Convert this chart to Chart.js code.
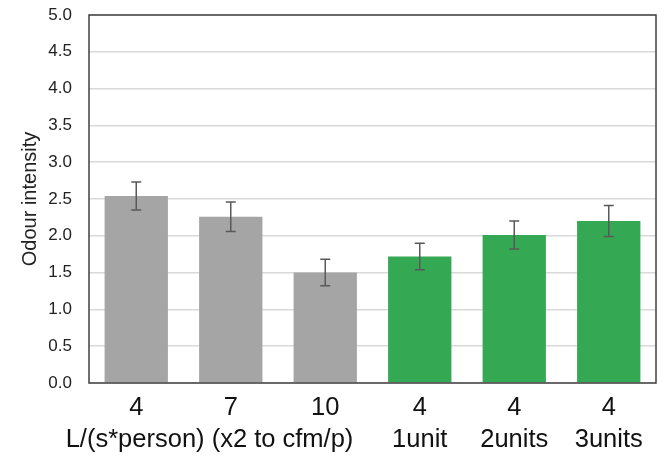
<!DOCTYPE html>
<html>
<head>
<meta charset="utf-8">
<script src="https://cdn.jsdelivr.net/npm/chart.js@4.4.1/dist/chart.umd.min.js"></script>
<style>
  html, body { margin: 0; padding: 0; background: #fff; }
  #wrap { width: 672px; height: 457px; }
</style>
</head>
<body>
<div id="wrap"><canvas id="odourChart"></canvas></div>
<script>
// ventilation rates / air cleaner units
const rates = ["4", "7", "10", "4", "4", "4"];
const groupNames = ["", "L/(s*person) (x2 to cfm/p)      ", "", "1unit", "2units", "3units"];
const odourMean = [2.54, 2.26, 1.50, 1.72, 2.01, 2.20];
const odourErr = [0.19, 0.20, 0.18, 0.18, 0.19, 0.21];
const barColors = ["#a5a5a5", "#a5a5a5", "#a5a5a5", "#34a853", "#34a853", "#34a853"];
const yTicks = [0, 0.5, 1, 1.5, 2, 2.5, 3, 3.5, 4, 4.5, 5];

const labels = rates.map((r, i) => [r, groupNames[i]]);

// error bars + box around plot area
const errorBars = {
  id: "errorBars",
  afterDatasetsDraw(chart) {
    const ctx = chart.ctx;
    const meta = chart.getDatasetMeta(0);
    const y = chart.scales.y;
    ctx.save();
    ctx.strokeStyle = "#595959";
    ctx.lineWidth = 1.5;
    meta.data.forEach((bar, i) => {
      const top = y.getPixelForValue(odourMean[i] + odourErr[i]);
      const bot = y.getPixelForValue(odourMean[i] - odourErr[i]);
      ctx.beginPath();
      ctx.moveTo(bar.x, top); ctx.lineTo(bar.x, bot);
      ctx.moveTo(bar.x - 5, top); ctx.lineTo(bar.x + 5, top);
      ctx.moveTo(bar.x - 5, bot); ctx.lineTo(bar.x + 5, bot);
      ctx.stroke();
    });
    const a = chart.chartArea;
    ctx.strokeStyle = "#404040";
    ctx.lineWidth = 1.5;
    ctx.strokeRect(a.left, a.top, a.right - a.left, a.bottom - a.top);
    ctx.restore();
  }
};

new Chart(document.getElementById("odourChart"), {
  type: "bar",
  data: {
    labels: labels,
    datasets: [{
      data: odourMean,
      backgroundColor: barColors,
      categoryPercentage: 1,
      barPercentage: 0.67
    }]
  },
  options: {
    responsive: true,
    maintainAspectRatio: false,
    animation: false,
    layout: { padding: { top: 15, right: 16, left: 14, bottom: 0 } },
    plugins: { legend: { display: false }, tooltip: { enabled: false } },
    scales: {
      x: {
        grid: { display: false, drawTicks: false },
        border: { display: false },
        afterFit: (axis) => { axis.height = 74; },
        ticks: {
          color: "#111",
          padding: 9,
          maxRotation: 0,
          autoSkip: false,
          font: { family: "Liberation Sans, Arial", size: 25.5, lineHeight: 1.255 }
        }
      },
      y: {
        min: 0,
        max: 5,
        afterBuildTicks: (axis) => { axis.ticks = yTicks.map(v => ({ value: v })); },
        // fixed axis width, no extra room above the top tick
        afterFit: (axis) => {
          axis.width = 75;
          axis.paddingTop = 0;
          axis.paddingBottom = 0;
        },
        grid: { color: "#d9d9d9", lineWidth: 1.5, drawTicks: false },
        border: { display: false },
        ticks: {
          color: "#222",
          padding: 17,
          font: { family: "Liberation Sans, Arial", size: 17 },
          callback: (v) => v.toFixed(1)
        },
        title: {
          display: true,
          text: "Odour intensity",
          color: "#222",
          padding: { top: 4, bottom: 6 },
          font: { family: "Liberation Sans, Arial", size: 20 }
        }
      }
    }
  },
  plugins: [errorBars]
});
</script>
</body>
</html>
